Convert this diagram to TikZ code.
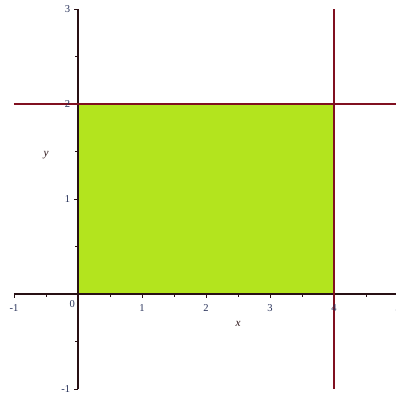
\documentclass[tikz,border=0pt]{standalone}
\usepackage{fontspec}
\setmainfont{Liberation Serif}
\usepackage{xcolor}
\definecolor{regionFill}{RGB}{179, 228, 30}
\definecolor{boundLine}{RGB}{128, 16, 32}
\definecolor{axisDark}{RGB}{40, 16, 20}
\definecolor{tickText}{RGB}{40, 50, 90}
\usetikzlibrary{positioning}

\begin{document}
\begin{tikzpicture}[
    x=3.2cm, y=4.75cm,
    axisLine/.style={draw=axisDark, line width=2.4pt},
    boundary/.style={draw=boundLine, line width=3.4pt},
    tickMark/.style={draw=axisDark, line width=1.4pt},
    tickLabel/.style={font=\fontsize{15}{17}\selectfont, text=tickText, inner sep=1pt},
    axisName/.style={font=\fontsize{16}{18}\selectfont\itshape, text=axisDark, inner sep=1pt}
]
    % frame
    \useasboundingbox (-1.21875,-1.0737) rectangle (4.96875,3.0947);

    % shaded region
    \fill[regionFill] (0,0) rectangle (4,2);

    % axes
    \draw[axisLine] (-1,0) -- (5,0);
    \draw[axisLine] (0,-1) -- (0,3);

    % ticks
    \foreach \xv in {-1,0,...,5}
        \draw[tickMark] (\xv,0) -- ++(0,-0.045);
    \foreach \xv in {-0.5,0.5,...,4.5}
        \draw[tickMark] (\xv,0) -- ++(0,-0.03);
    \foreach \yv in {-1,1,2,3}
        \draw[tickMark] (0,\yv) -- ++(-0.07,0);
    \foreach \yv in {-0.5,0.5,...,2.5}
        \draw[tickMark] (0,\yv) -- ++(-0.05,0);

    % boundary lines
    \draw[boundary] (-1,2) -- (5,2);
    \draw[boundary] (4,-1) -- (4,3);

    % tick labels
    \node[tickLabel] (xm1) at (-1,-0.15) {-1};
    \node[tickLabel] (x0) at (-0.09,-0.11) {0};
    \foreach \xv in {1,2,3,4,5}
        \node[tickLabel] (x\xv) at (\xv,-0.15) {\xv};
    \node[tickLabel, anchor=east] (y3) at (-0.11,3) {3};
    \node[tickLabel, anchor=east] (y2) at (-0.11,2) {2};
    \node[tickLabel, anchor=east] (y1) at (-0.11,1) {1};
    \node[tickLabel, anchor=east] (ym1) at (-0.11,-1) {-1};

    % axis names
    \node[axisName] (xname) at (2.5,-0.31) {x};
    \node[axisName] (yname) at (-0.5,1.46) {y};

\end{tikzpicture}
\end{document}
